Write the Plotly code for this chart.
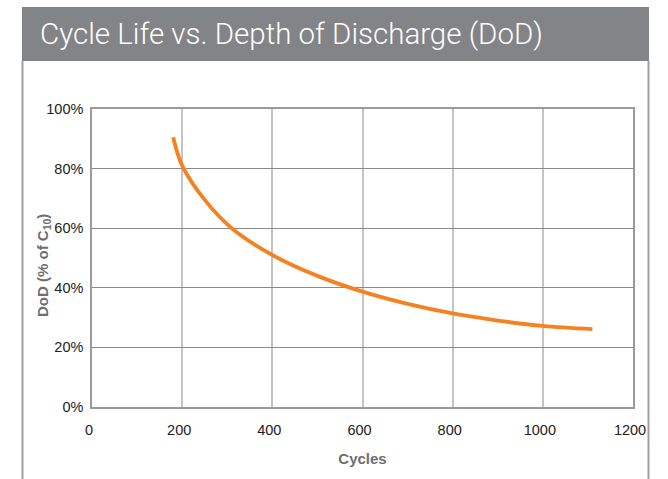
import plotly.graph_objects as go

# values
cycles = [180, 200, 250, 310, 400, 500, 600, 700, 800, 900, 1000, 1110]
dod = [90.5, 81, 69.5, 60, 51, 44, 38.7, 34.6, 31.4, 29.0, 27.2, 26.1]

x_ticks = [0, 200, 400, 600, 800, 1000, 1200]
y_ticks = [0, 20, 40, 60, 80, 100]
y_tick_labels = ["0%", "20%", "40%", "60%", "80%", "100%"]

title_text = "Cycle Life vs. Depth of Discharge (DoD)"
x_title = "Cycles"
y_title = "DoD (% of C<sub>10</sub>)"

W, H = 668, 479
L, R, T, B = 92, 35, 109, 72
pw, ph = W - L - R, H - T - B


def px_to_paper_x(px):
    return (px - L) / pw


def px_to_paper_y(py):
    return (H - B - py) / ph


fig = go.Figure()
fig.add_trace(
    go.Scatter(
        x=cycles,
        y=dod,
        mode="lines",
        line=dict(color="#F58220", width=3.8, shape="spline", smoothing=1.0),
        showlegend=False,
        hoverinfo="skip",
    )
)

tick_font = dict(family="Liberation Sans, Arial", size=14.5, color="#222222")
title_font = dict(family="Liberation Sans, Arial", size=15, color="#6d6e71", weight="bold")

fig.update_xaxes(
    range=[0, 1200],
    tickvals=x_ticks,
    showgrid=True,
    gridcolor="#c4c4c4",
    gridwidth=2,
    showline=True,
    linecolor="#9a9a9a",
    linewidth=1.5,
    mirror=True,
    zeroline=False,
    ticks="outside",
    ticklen=9,
    tickcolor="rgba(0,0,0,0)",
    tickfont=tick_font,
    ticklabelshift=-3,
    title=dict(text=x_title, font=title_font, standoff=16),
)
fig.update_yaxes(
    range=[0, 100],
    tickvals=y_ticks,
    ticktext=y_tick_labels,
    showgrid=True,
    gridcolor="#8a8a8a",
    gridwidth=1,
    showline=True,
    linecolor="#9a9a9a",
    linewidth=1.5,
    mirror=True,
    zeroline=False,
    ticks="outside",
    ticklen=4,
    tickcolor="rgba(0,0,0,0)",
    tickfont=tick_font,
)

# y title as a rotated annotation so it can sit closer to the tick labels
fig.add_annotation(
    text=y_title,
    xref="paper",
    yref="paper",
    x=px_to_paper_x(43),
    y=px_to_paper_y(266),
    xanchor="center",
    yanchor="middle",
    textangle=-90,
    showarrow=False,
    font=title_font,
)

# grey header band and card borders
shapes = [
    dict(type="rect", xref="paper", yref="paper",
         x0=px_to_paper_x(22), x1=px_to_paper_x(649),
         y0=px_to_paper_y(61), y1=px_to_paper_y(7),
         fillcolor="#838487", line=dict(width=0), layer="below"),
    dict(type="line", xref="paper", yref="paper",
         x0=px_to_paper_x(22.5), x1=px_to_paper_x(22.5),
         y0=px_to_paper_y(61), y1=px_to_paper_y(H + 2),
         line=dict(color="#a0a0a0", width=2)),
    dict(type="line", xref="paper", yref="paper",
         x0=px_to_paper_x(648.5), x1=px_to_paper_x(648.5),
         y0=px_to_paper_y(61), y1=px_to_paper_y(H + 2),
         line=dict(color="#a0a0a0", width=2)),
]

fig.update_layout(
    width=W,
    height=H,
    margin=dict(l=L, r=R, t=T, b=B, autoexpand=False),
    paper_bgcolor="white",
    plot_bgcolor="white",
    shapes=shapes,
    title=dict(
        text=title_text,
        x=40 / W,
        xanchor="left",
        y=1 - 34 / H,
        yanchor="middle",
        font=dict(family="Roboto, Liberation Sans, Arial", size=29.5, color="white", weight=300),
    ),
)

# drop the default page margin so the figure sits at the window corner
fig.write_html(
    "out.html",
    config={"displayModeBar": False},
    post_script="document.body.style.margin='0';",
)
